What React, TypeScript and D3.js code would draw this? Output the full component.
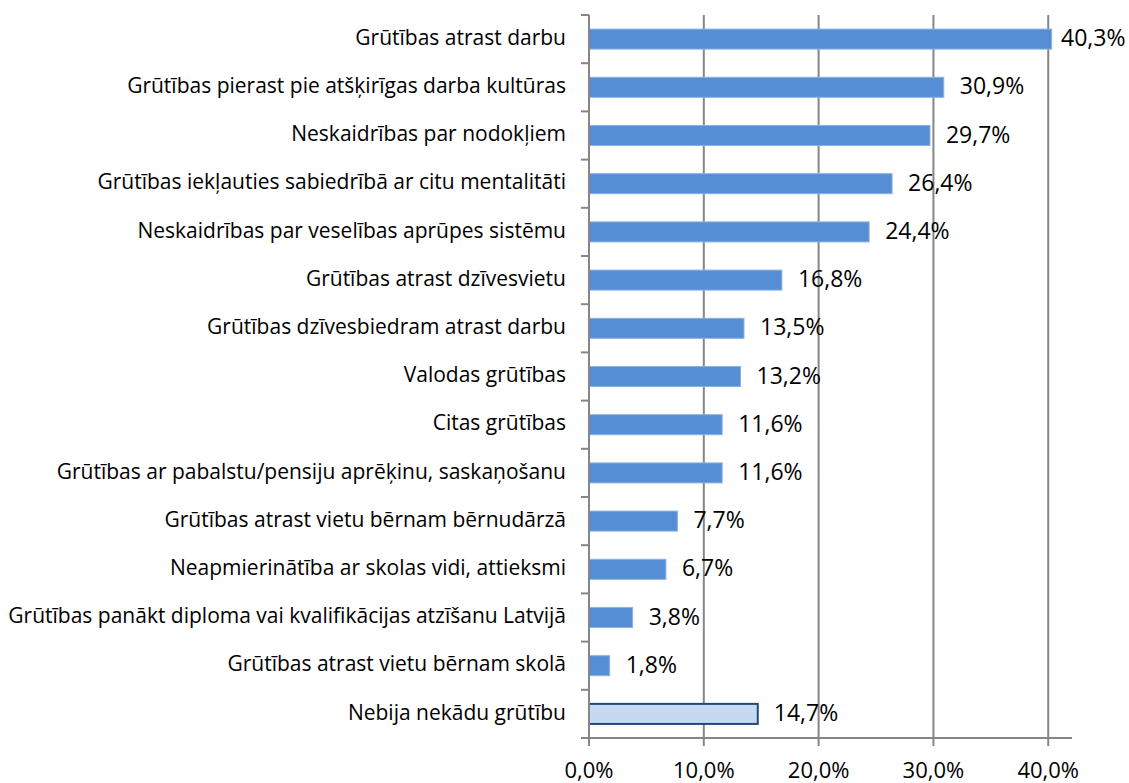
import React from "react";
import * as d3 from "d3";

const categories = [
  "Grūtības atrast darbu",
  "Grūtības pierast pie atšķirīgas darba kultūras",
  "Neskaidrības par nodokļiem",
  "Grūtības iekļauties sabiedrībā ar citu mentalitāti",
  "Neskaidrības par veselības aprūpes sistēmu",
  "Grūtības atrast dzīvesvietu",
  "Grūtības dzīvesbiedram atrast darbu",
  "Valodas grūtības",
  "Citas grūtības",
  "Grūtības ar pabalstu/pensiju aprēķinu, saskaņošanu",
  "Grūtības atrast vietu bērnam bērnudārzā",
  "Neapmierinātība ar skolas vidi, attieksmi",
  "Grūtības panākt diploma vai kvalifikācijas atzīšanu Latvijā",
  "Grūtības atrast vietu bērnam skolā",
  "Nebija nekādu grūtību",
];
const values = [40.3, 30.9, 29.7, 26.4, 24.4, 16.8, 13.5, 13.2, 11.6, 11.6, 7.7, 6.7, 3.8, 1.8, 14.7];
const highlighted = [false, false, false, false, false, false, false, false, false, false, false, false, false, false, true];
const xTicks = [0, 10, 20, 30, 40];

const W = 1129;
const H = 783;
const left = 589;
const right = 1072;
const top = 15;
const bottom = 738;
const FONT = "'Open Sans', sans-serif";

const fmt = (v: number) => v.toFixed(1).replace(".", ",") + "%";

export default function App() {
  const x = d3.scaleLinear().domain([0, 42.07]).range([left, right]);
  const y = d3.scaleBand<number>().domain(d3.range(categories.length)).range([top, bottom]).paddingInner(0.584).paddingOuter(0.292);
  const band = d3.scaleBand<number>().domain(d3.range(categories.length)).range([top, bottom]);
  const labelW = 64;
  return (
    <svg width={W} height={H} style={{ position: "absolute", left: 0, top: 0, background: "#fff" }}>
      {xTicks.slice(1).map((t) => (
        <line key={"g" + t} x1={x(t)} x2={x(t)} y1={top} y2={bottom} stroke="#868686" strokeWidth={2} />
      ))}
      {values.map((v, i) => (
        <rect
          key={"b" + i}
          x={x(0)}
          y={y(i)!}
          width={x(v) - x(0)}
          height={y.bandwidth()}
          fill={highlighted[i] ? "#c6d9f1" : "#558ed5"}
          stroke={highlighted[i] ? "#1f497d" : "#8db3e2"}
          strokeWidth={highlighted[i] ? 2 : 1}
        />
      ))}
      <line x1={left} x2={left} y1={top} y2={bottom + 8} stroke="#868686" strokeWidth={2} />
      {d3.range(categories.length + 1).map((i) => {
        const yy = i < categories.length ? band(i)! : bottom;
        return <line key={"yt" + i} x1={left - 8} x2={left} y1={yy} y2={yy} stroke="#868686" strokeWidth={2} />;
      })}
      <line x1={left - 8} x2={right} y1={bottom} y2={bottom} stroke="#868686" strokeWidth={2} />
      {xTicks.map((t) => (
        <line key={"xt" + t} x1={x(t)} x2={x(t)} y1={bottom} y2={bottom + 8} stroke="#868686" strokeWidth={2} />
      ))}
      {xTicks.map((t) => (
        <text key={"xl" + t} x={x(t)} y={778} textAnchor="middle" fontFamily={FONT} fontSize={22} fill="#000">
          {fmt(t)}
        </text>
      ))}
      {categories.map((c, i) => (
        <text key={"c" + i} x={left - 23} y={band(i)! + band.bandwidth() / 2} textAnchor="end" dominantBaseline="middle" fontFamily={FONT} fontSize={21} fill="#000">
          {c}
        </text>
      ))}
      {values.map((v, i) => (
        <text key={"v" + i} x={Math.min(x(v) + 16, W - 4 - labelW)} y={band(i)! + band.bandwidth() / 2 + 1} textAnchor="start" dominantBaseline="middle" fontFamily={FONT} fontSize={23} fill="#000">
          {fmt(v)}
        </text>
      ))}
    </svg>
  );
}
